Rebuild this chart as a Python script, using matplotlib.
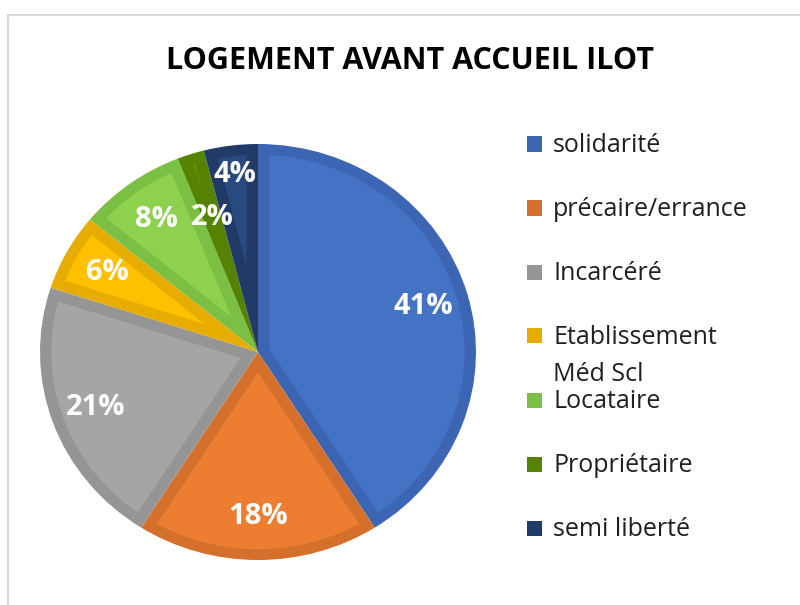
import matplotlib
matplotlib.use("Agg")
import matplotlib.pyplot as plt
import numpy as np
from matplotlib.patches import Rectangle, Polygon

plt.rcParams['font.family'] = ['Open Sans', 'DejaVu Sans']

labels = ["solidarité", "précaire/errance", "Incarcéré", "Etablissement\nMéd Scl",
          "Locataire", "Propriétaire", "semi liberté"]
values = [41, 18, 21, 6, 8, 2, 4]
fills = ["#4472C4", "#ED7D31", "#A5A5A5", "#FFC000", "#8ED14F", "#5E9000", "#29497F"]
edges = ["#3C66B3", "#D5702C", "#959595", "#E6AD00", "#7BBF45", "#558200", "#213A68"]

W, H = 800, 605
fig = plt.figure(figsize=(W / 100, H / 100), dpi=100)

# light grey chart frame (right/bottom edges run off the picture)
fig.patches.append(Rectangle((8 / W, -0.1), 1.2, 1 - 15 / H + 0.1, transform=fig.transFigure,
                             fill=False, edgecolor="#D9D9D9", linewidth=1.5))

# pie axes: center ~ (258, 352) px, radii ~218 x 208 px
pad = 1.03
rx, ry = 218 * pad, 208 * pad
cx, cy = 258, 352
ax = fig.add_axes([(cx - rx) / W, (H - cy - ry) / H, 2 * rx / W, 2 * ry / H])
wedges, texts, autotexts = ax.pie(values, colors=edges, startangle=90, counterclock=False,
                                  autopct="%1.0f%%", pctdistance=0.79,
                                  wedgeprops=dict(linewidth=0),
                                  textprops=dict(color="white", fontsize=21, fontweight="bold"))

# inset fill inside each slice, leaving a darker border like Excel
d = 0.052
for w, fc in zip(wedges, fills):
    t1, t2 = np.deg2rad(w.theta1), np.deg2rad(w.theta2)
    half = (t2 - t1) / 2
    mid = (t1 + t2) / 2
    R = w.r - d
    apex = d / np.sin(half)
    a = np.arcsin(d / R)
    ts = np.linspace(t1 + a, t2 - a, 80)
    xs = np.concatenate([[apex * np.cos(mid)], R * np.cos(ts)])
    ys = np.concatenate([[apex * np.sin(mid)], R * np.sin(ts)])
    ax.add_patch(Polygon(np.column_stack([xs, ys]), closed=True, facecolor=fc,
                         edgecolor="none"))

# small neighbouring slices: pull labels apart like Excel does
for i, dist in [(5, 0.68), (6, 0.86)]:
    w = wedges[i]
    mid = np.deg2rad((w.theta1 + w.theta2) / 2)
    autotexts[i].set_position((dist * np.cos(mid), dist * np.sin(mid)))

ax.set_aspect("auto")
ax.set_xlim(-pad, pad)
ax.set_ylim(-pad, pad)
ax.axis("off")

fig.text(410 / W, 1 - 61 / H, "LOGEMENT AVANT ACCUEIL ILOT", ha="center", va="center",
         fontsize=22, fontweight="bold", color="black")

# legend
for i, (lab, ec) in enumerate(zip(labels, edges)):
    y = 144 + 64 * i
    fig.patches.append(Rectangle((527 / W, 1 - (y + 7.5) / H), 15 / W, 15 / H,
                                 transform=fig.transFigure, facecolor=ec, edgecolor="none"))
    for j, line in enumerate(lab.split("\n")):
        fig.text(553 / W, 1 - (y + 8 + 37 * j) / H, line, ha="left", va="baseline",
                 fontsize=18, color="#1f1f1f")

fig.savefig("out.png", dpi=100, facecolor="white")
